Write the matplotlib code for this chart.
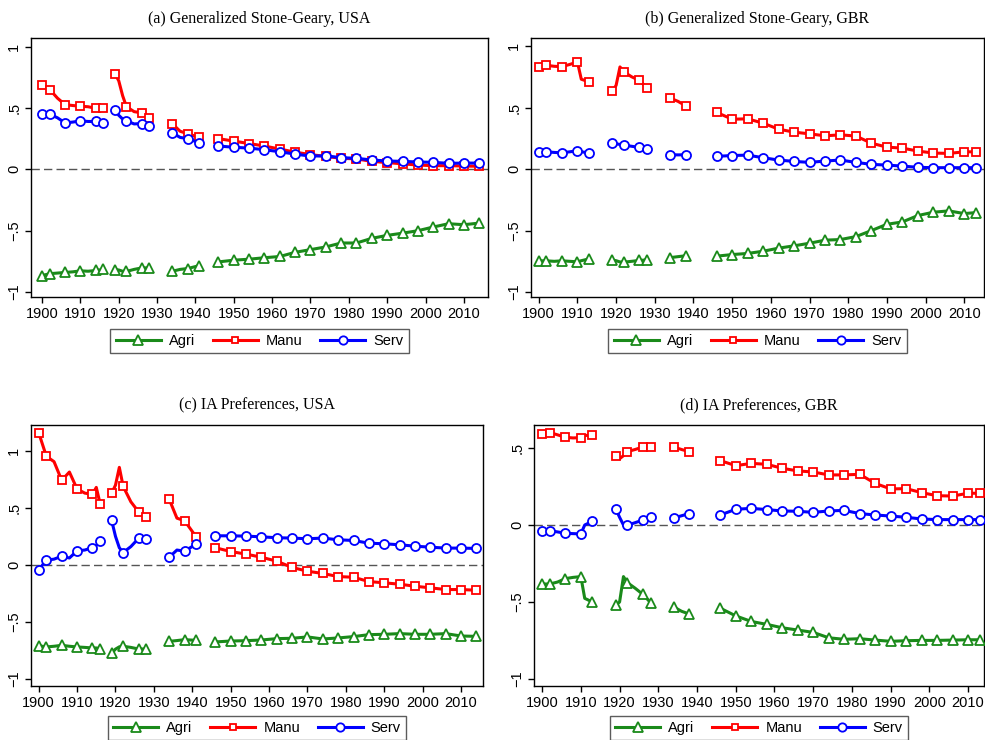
import numpy as np
import matplotlib
matplotlib.use("Agg")
from matplotlib import pyplot as plt
from matplotlib.lines import Line2D

# ============================================================
# Data, nan = break in series
# ============================================================
nan = np.nan

usa_years = [1900, 1902, 1904, 1906, 1908, 1910, 1912, 1914, 1915, 1916, 1917,
             1919, 1920, 1921, 1922, 1924, 1926, 1928, 1931,
             1934, 1936, 1938, 1941, 1943,
             1946, 1950, 1954, 1958, 1962, 1966, 1970, 1974, 1978, 1982,
             1986, 1990, 1994, 1998, 2002, 2006, 2010, 2014]
usa_marker_years = [1900, 1902, 1906, 1910, 1914, 1916,
                    1919, 1922, 1926, 1928, 1934, 1938, 1941,
                    1946, 1950, 1954, 1958, 1962, 1966, 1970, 1974, 1978, 1982,
                    1986, 1990, 1994, 1998, 2002, 2006, 2010, 2014]

gbr_years = [1900, 1902, 1904, 1906, 1908, 1910, 1911, 1913, 1916,
             1919, 1920, 1921, 1922, 1924, 1926, 1928, 1931,
             1934, 1936, 1938, 1942,
             1946, 1950, 1954, 1958, 1962, 1966, 1970, 1974, 1978, 1982,
             1986, 1990, 1994, 1998, 2002, 2006, 2010, 2013]
gbr_marker_years = [1900, 1902, 1906, 1910, 1913,
                    1919, 1922, 1926, 1928, 1934, 1938,
                    1946, 1950, 1954, 1958, 1962, 1966, 1970, 1974, 1978, 1982,
                    1986, 1990, 1994, 1998, 2002, 2006, 2010, 2013]

# (a) Generalized Stone-Geary, USA
sg_usa_agri = [-0.865, -0.85, -0.845, -0.84, -0.835, -0.827, -0.83, -0.824, -0.82, -0.814, nan,
               -0.816, -0.82, -0.83, -0.832, -0.815, -0.803, -0.803, nan,
               -0.83, -0.815, -0.808, -0.784, nan,
               -0.754, -0.74, -0.732, -0.72, -0.71, -0.676, -0.654, -0.632, -0.6, -0.6,
               -0.562, -0.538, -0.52, -0.5, -0.47, -0.443, -0.451, -0.438]
sg_usa_manu = [0.686, 0.65, 0.58, 0.527, 0.52, 0.514, 0.51, 0.497, 0.50, 0.50, nan,
               0.78, 0.72, 0.60, 0.51, 0.47, 0.46, 0.42, nan,
               0.37, 0.31, 0.29, 0.26, nan,
               0.25, 0.23, 0.21, 0.19, 0.165, 0.14, 0.12, 0.105, 0.09, 0.085,
               0.065, 0.055, 0.045, 0.035, 0.03, 0.03, 0.027, 0.025]
sg_usa_serv = [0.449, 0.449, 0.42, 0.378, 0.385, 0.395, 0.39, 0.39, 0.385, 0.378, nan,
               0.484, 0.44, 0.41, 0.395, 0.37, 0.373, 0.35, nan,
               0.297, 0.26, 0.25, 0.216, nan,
               0.19, 0.18, 0.173, 0.16, 0.143, 0.124, 0.108, 0.11, 0.095, 0.09,
               0.076, 0.068, 0.065, 0.06, 0.057, 0.049, 0.051, 0.051]

# (b) Generalized Stone-Geary, GBR
sg_gbr_agri = [-0.746, -0.746, -0.75, -0.746, -0.75, -0.754, -0.745, -0.73, nan,
               -0.74, -0.745, -0.755, -0.757, -0.75, -0.743, -0.738, nan,
               -0.72, -0.712, -0.705, nan,
               -0.708, -0.695, -0.686, -0.668, -0.643, -0.624, -0.603, -0.578, -0.573, -0.549,
               -0.5, -0.449, -0.43, -0.378, -0.351, -0.34, -0.362, -0.354]
sg_gbr_manu = [0.832, 0.843, 0.835, 0.832, 0.85, 0.87, 0.73, 0.708, nan,
               0.632, 0.68, 0.83, 0.79, 0.75, 0.72, 0.66, nan,
               0.576, 0.55, 0.514, nan,
               0.46, 0.405, 0.408, 0.373, 0.324, 0.30, 0.286, 0.27, 0.278, 0.268,
               0.21, 0.178, 0.17, 0.146, 0.13, 0.127, 0.14, 0.14]
sg_gbr_serv = [0.138, 0.14, 0.135, 0.132, 0.14, 0.149, 0.14, 0.132, nan,
               0.21, 0.205, 0.20, 0.195, 0.185, 0.176, 0.165, nan,
               0.116, 0.115, 0.116, nan,
               0.103, 0.11, 0.113, 0.092, 0.073, 0.062, 0.054, 0.065, 0.073, 0.054,
               0.038, 0.032, 0.024, 0.014, 0.011, 0.011, 0.011, 0.011]

# (c) IA Preferences, USA
ia_usa_agri = [-0.71, -0.721, -0.715, -0.707, -0.715, -0.721, -0.725, -0.73, -0.73, -0.736, nan,
               -0.777, -0.74, -0.72, -0.715, -0.725, -0.739, -0.739, nan,
               -0.672, -0.665, -0.657, -0.663, nan,
               -0.677, -0.669, -0.666, -0.66, -0.648, -0.645, -0.633, -0.651, -0.642, -0.63,
               -0.613, -0.61, -0.604, -0.61, -0.61, -0.604, -0.625, -0.628]
ia_usa_manu = [1.161, 0.953, 0.906, 0.742, 0.815, 0.666, 0.63, 0.619, 0.68, 0.537, nan,
               0.628, 0.70, 0.856, 0.689, 0.554, 0.466, 0.422, nan,
               0.575, 0.41, 0.387, 0.246, nan,
               0.15, 0.117, 0.094, 0.067, 0.032, -0.023, -0.056, -0.076, -0.103, -0.109,
               -0.147, -0.158, -0.17, -0.188, -0.202, -0.217, -0.217, -0.223]
ia_usa_serv = [-0.044, 0.041, 0.05, 0.076, 0.06, 0.123, 0.13, 0.15, 0.17, 0.208, nan,
               0.39, 0.25, 0.15, 0.108, 0.16, 0.232, 0.223, nan,
               0.067, 0.13, 0.12, 0.182, nan,
               0.255, 0.255, 0.252, 0.246, 0.238, 0.235, 0.229, 0.235, 0.22, 0.214,
               0.19, 0.185, 0.176, 0.164, 0.155, 0.147, 0.147, 0.144]

# (d) IA Preferences, GBR
ia_gbr_agri = [-0.383, -0.383, -0.37, -0.348, -0.34, -0.335, -0.476, -0.5, nan,
               -0.52, -0.50, -0.335, -0.374, -0.41, -0.45, -0.504, nan,
               -0.532, -0.56, -0.578, nan,
               -0.54, -0.59, -0.626, -0.645, -0.667, -0.682, -0.697, -0.732, -0.742, -0.738,
               -0.747, -0.755, -0.751, -0.749, -0.749, -0.747, -0.745, -0.745]
ia_gbr_manu = [0.593, 0.60, 0.585, 0.569, 0.565, 0.567, 0.58, 0.587, nan,
               0.45, 0.43, 0.45, 0.476, 0.49, 0.506, 0.509, nan,
               0.506, 0.49, 0.476, nan,
               0.418, 0.385, 0.40, 0.394, 0.368, 0.351, 0.344, 0.325, 0.325, 0.329,
               0.27, 0.234, 0.236, 0.21, 0.19, 0.188, 0.206, 0.206]
ia_gbr_serv = [-0.037, -0.037, -0.045, -0.054, -0.056, -0.058, 0.0, 0.024, nan,
               0.106, 0.05, 0.0, -0.002, 0.015, 0.032, 0.054, nan,
               0.045, 0.06, 0.074, nan,
               0.065, 0.102, 0.108, 0.10, 0.091, 0.089, 0.082, 0.091, 0.095, 0.074,
               0.065, 0.058, 0.05, 0.039, 0.035, 0.035, 0.035, 0.035]

sectors = ["Agri", "Manu", "Serv"]
titles = ["(a) Generalized Stone-Geary, USA", "(b) Generalized Stone-Geary, GBR",
          "(c) IA Preferences, USA", "(d) IA Preferences, GBR"]
x_ticks = [1900, 1910, 1920, 1930, 1940, 1950, 1960, 1970, 1980, 1990, 2000, 2010]

# ============================================================
# Styling
# ============================================================
plt.rcParams['font.family'] = ['Liberation Sans', 'DejaVu Sans']
colors = {"Agri": "#1a8a1a", "Manu": "#ff0000", "Serv": "#0000ff"}
markers = {"Agri": "^", "Manu": "s", "Serv": "o"}
msizes = {"Agri": 7.5, "Manu": 5.5, "Serv": 6.5}

panels = [
    (usa_years, usa_marker_years, [sg_usa_agri, sg_usa_manu, sg_usa_serv]),
    (gbr_years, gbr_marker_years, [sg_gbr_agri, sg_gbr_manu, sg_gbr_serv]),
    (usa_years, usa_marker_years, [ia_usa_agri, ia_usa_manu, ia_usa_serv]),
    (gbr_years, gbr_marker_years, [ia_gbr_agri, ia_gbr_manu, ia_gbr_serv]),
]

# axes rectangles in pixels (left, top, right, bottom)
W, H = 985, 740
boxes_px = [(31, 38, 488, 297), (531, 38, 984, 297),
            (31, 425, 483, 686), (534, 425, 984, 686)]
xlims = [(1897.1, 2016.3), (1898.0, 2015.1), (1898.0, 2015.7), (1897.9, 2014.1)]
ylims = [(-1.04, 1.07), (-1.04, 1.065), (-1.064, 1.228), (-1.045, 0.649)]
yticks = [[-1, -0.5, 0, 0.5, 1]] * 3 + [[-1, -0.5, 0, 0.5]]
ytick_labels = {-1: "\u22121", -0.5: "\u2212.5", 0: "0", 0.5: ".5", 1: "1"}

fig = plt.figure(figsize=(9.85, 7.4), dpi=100)

for i, (years, mk_years, series) in enumerate(panels):
    l, t, r, b = boxes_px[i]
    ax = fig.add_axes([l / W, 1 - b / H, (r - l) / W, (b - t) / H])
    yrs = np.array(years, dtype=float)
    mask = np.isin(yrs, mk_years)

    ax.axhline(0, color="#555555", lw=1.0, ls=(0, (6, 3)), zorder=1)
    for name, vals in zip(sectors, series):
        ax.plot(yrs, vals, color=colors[name], lw=2.2, marker=markers[name],
                ms=msizes[name], mfc="white", mec=colors[name], mew=1.3,
                markevery=list(mask), zorder=3)

    ax.set_xlim(*xlims[i])
    ax.set_ylim(*ylims[i])
    ax.set_xticks(x_ticks)
    ax.set_yticks(yticks[i])
    ax.set_yticklabels([ytick_labels[v] for v in yticks[i]], rotation=90, va="center")
    ax.tick_params(direction="out", length=4, width=1, labelsize=10.5, pad=3)
    for sp in ax.spines.values():
        sp.set_linewidth(1.0)
        sp.set_color("black")
    ax.set_title(titles[i], fontsize=11.5, family=["Liberation Serif", "DejaVu Serif"], pad=11)

    handles = [Line2D([], [], color=colors[n], lw=2.2, marker=markers[n],
                      ms=msizes[n] - 0.5, mfc="white", mec=colors[n], mew=1.3)
               for n in sectors]
    leg_y = -0.17 if i < 2 else -0.161
    leg = ax.legend(handles, sectors, loc="center", bbox_to_anchor=(0.5, leg_y),
                    ncol=3, frameon=True, fancybox=False, fontsize=10.5,
                    handlelength=3.1, handletextpad=0.55, columnspacing=1.2,
                    borderpad=0.35, numpoints=1)
    leg.get_frame().set_edgecolor("#333333")
    leg.get_frame().set_linewidth(1.0)

plt.savefig("out.png", dpi=100)
